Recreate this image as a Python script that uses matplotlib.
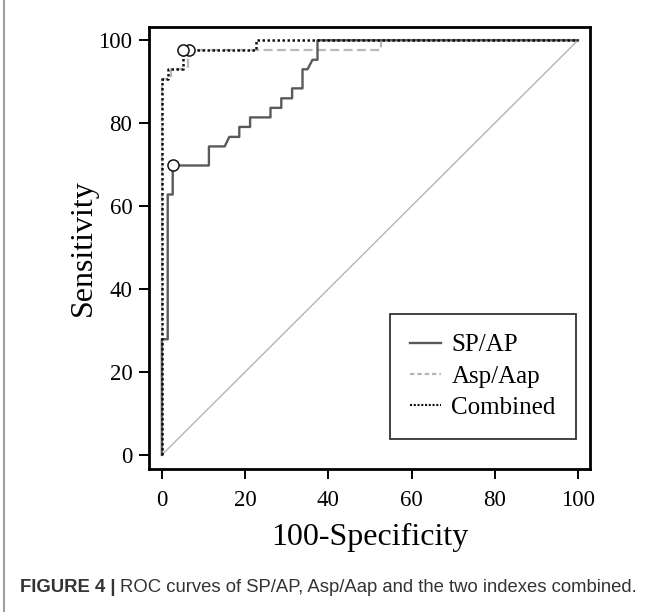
import matplotlib
matplotlib.use("Agg")
import matplotlib.pyplot as plt
from matplotlib.lines import Line2D

# ROC step paths (100-Specificity, Sensitivity)
sp_ap_x = [0, 0, 1.4, 1.4, 2.6, 2.6, 11.3, 11.3, 15.1, 16.2, 18.6, 18.6, 21.2, 21.2,
           26.1, 26.1, 28.7, 28.7, 31.3, 31.3, 33.8, 33.8, 35.0, 36.2, 37.4, 37.4, 100]
sp_ap_y = [0, 27.9, 27.9, 62.8, 62.8, 69.8, 69.8, 74.4, 74.4, 76.7, 76.7, 79.1, 79.1, 81.4,
           81.4, 83.7, 83.7, 86.0, 86.0, 88.4, 88.4, 93.0, 93.0, 95.3, 95.3, 100, 100]

asp_x = [0, 0, 2.2, 2.2, 6.3, 6.3, 52.6, 52.6, 100]
asp_y = [0, 90.7, 90.7, 93.0, 93.0, 97.7, 97.7, 100, 100]

comb_x = [0, 0, 1.4, 1.4, 5.0, 5.0, 22.5, 22.5, 100]
comb_y = [0, 90.7, 90.7, 93.0, 93.0, 97.7, 97.7, 100, 100]

# optimal cut-off points
cut_x = [2.6, 6.4, 5.0]
cut_y = [69.8, 97.7, 97.7]

ticks = [0, 20, 40, 60, 80, 100]
legend_labels = ["SP/AP", "Asp/Aap", "Combined"]
caption_bold = "FIGURE 4 |"
caption_text = "ROC curves of SP/AP, Asp/Aap and the two indexes combined."

W, H = 655, 612
fig = plt.figure(figsize=(W / 100, H / 100), dpi=100)
ax = fig.add_axes([149 / W, 1 - 469 / H, 441 / W, 442 / H])

serif = "Liberation Serif"

ax.plot([0, 100], [0, 100], color="#b4b4b4", lw=1.0)
ax.plot(asp_x, asp_y, color="#b8b8b8", lw=1.6, ls=(0, (4, 2)))
ax.plot(sp_ap_x, sp_ap_y, color="#5a5a5a", lw=1.7)
ax.plot(comb_x, comb_y, color="#111111", lw=1.8, ls=(0, (1, 1)))
ax.plot(cut_x, cut_y, ls="none", marker="o", ms=8, mfc="white", mec="#111111", mew=1.1)

ax.set_xlim(-3.1, 102.9)
ax.set_ylim(-3.4, 103.2)
ax.set_xticks(ticks)
ax.set_yticks(ticks)
for sp in ax.spines.values():
    sp.set_linewidth(2.0)
ax.tick_params(direction="out", length=7, width=1.4)
ax.tick_params(axis="x", pad=8)
ax.tick_params(axis="y", pad=5)
for lab in ax.get_xticklabels() + ax.get_yticklabels():
    lab.set_fontfamily(serif)
    lab.set_fontsize(16.5)

ax.set_xlabel("100-Specificity", fontfamily=serif, fontsize=23, labelpad=9)
ax.set_ylabel("Sensitivity", fontfamily=serif, fontsize=23, labelpad=0)

handles = [
    Line2D([], [], color="#5a5a5a", lw=1.7),
    Line2D([], [], color="#b8b8b8", lw=1.6, ls=(0, (2, 1.3))),
    Line2D([], [], color="#111111", lw=1.5, ls=(0, (1, 0.8))),
]
leg = ax.legend(handles, legend_labels,
                loc="lower left", bbox_to_anchor=(0.5465, 0.068),
                prop={"family": serif, "size": 18}, frameon=True, fancybox=False,
                edgecolor="black", handlelength=1.25, handletextpad=0.4,
                borderpad=0.8, labelspacing=0.35, borderaxespad=0)
leg.get_frame().set_linewidth(1.3)

# left border line of the figure panel
fig.add_artist(Line2D([3.5 / W, 3.5 / W], [0, 1], color="#a0a0a0", lw=1.5))

# caption: bold label followed by regular text, shrunk to fit 20..640 px
cap_y = 1 - 587 / H
size = 14.5
t1 = fig.text(20 / W, cap_y, caption_bold, fontfamily="Liberation Sans",
              fontweight="bold", fontsize=size, color="#333333", va="center")
t2 = fig.text(0, cap_y, caption_text, fontfamily="Liberation Sans",
              fontsize=size, color="#333333", va="center")
fig.canvas.draw()
r = fig.canvas.get_renderer()
total = t1.get_window_extent(r).width + 4 + t2.get_window_extent(r).width
size = size * 620 / total
t1.set_fontsize(size)
t2.set_fontsize(size)
fig.canvas.draw()
bb = t1.get_window_extent(r)
t2.set_x((bb.x1 + 4) / W)

fig.savefig("out.png", dpi=100)
